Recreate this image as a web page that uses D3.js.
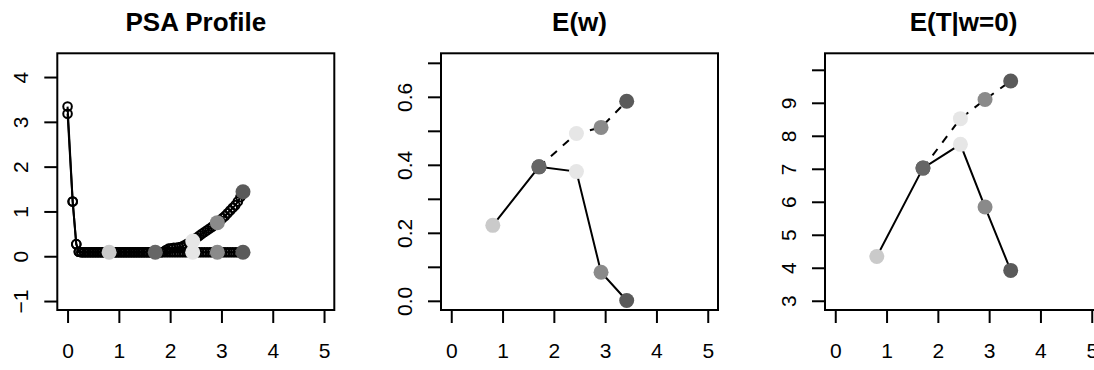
<!DOCTYPE html>
<html>
<head>
<meta charset="utf-8">
<script src="https://cdn.jsdelivr.net/npm/d3@7"></script>
<style>
body { margin: 0; background: #fff; }
text { font-family: "Liberation Sans", Arial, Helvetica, sans-serif; }
</style>
</head>
<body>
<svg id="chart"></svg>
<script>

/* Five highlighted fits (same x in every panel) */
var fitX = [0.81, 1.71, 2.44, 2.92, 3.42];
var fitColours = ["#cacaca", "#666666", "#e6e6e6", "#8a8a8a", "#5a5a5a"];

/* PSA profile: two paths of open circles */
var psaX = [0, 0.1, 0.17, 0.22, 0.27, 0.32, 0.37, 0.42, 0.47, 0.52,
    0.57, 0.62, 0.67, 0.72, 0.77, 0.82, 0.87, 0.92, 0.97, 1.02,
    1.07, 1.12, 1.17, 1.22, 1.27, 1.32, 1.37, 1.42, 1.47, 1.52,
    1.57, 1.62, 1.67, 1.72, 1.77, 1.82, 1.87, 1.92, 1.97, 2.02,
    2.07, 2.12, 2.17, 2.22, 2.27, 2.32, 2.37, 2.42, 2.47, 2.52,
    2.57, 2.62, 2.67, 2.72, 2.77, 2.82, 2.87, 2.92, 2.97, 3.02,
    3.07, 3.12, 3.17, 3.22, 3.27, 3.32, 3.37, 3.42];
var psaFlat = [3.34, 1.22, 0.27, 0.1, 0.09, 0.09, 0.09, 0.09, 0.09, 0.09,
    0.09, 0.09, 0.09, 0.09, 0.09, 0.09, 0.09, 0.09, 0.09, 0.09,
    0.09, 0.09, 0.09, 0.09, 0.09, 0.09, 0.09, 0.09, 0.09, 0.09,
    0.09, 0.09, 0.09, 0.09, 0.09, 0.09, 0.09, 0.09, 0.09, 0.09,
    0.09, 0.09, 0.09, 0.09, 0.09, 0.09, 0.09, 0.09, 0.09, 0.09,
    0.09, 0.09, 0.09, 0.09, 0.09, 0.09, 0.09, 0.09, 0.09, 0.09,
    0.09, 0.09, 0.09, 0.09, 0.09, 0.09, 0.09, 0.09];
var psaRise = [3.18, 1.22, 0.27, 0.1, 0.09, 0.09, 0.09, 0.09, 0.09, 0.09,
    0.09, 0.09, 0.09, 0.09, 0.09, 0.09, 0.09, 0.09, 0.09, 0.09,
    0.09, 0.09, 0.09, 0.09, 0.09, 0.09, 0.09, 0.09, 0.09, 0.09,
    0.09, 0.09, 0.09, 0.09, 0.09, 0.09, 0.1, 0.14, 0.17, 0.18,
    0.19, 0.19, 0.2, 0.21, 0.24, 0.27, 0.3, 0.34, 0.38, 0.42,
    0.46, 0.5, 0.54, 0.58, 0.62, 0.66, 0.7, 0.75, 0.8, 0.85,
    0.9, 0.96, 1.02, 1.08, 1.14, 1.22, 1.32, 1.43];
var psaFitLow = [0.09, 0.09, 0.09, 0.09, 0.09];
var psaFitHigh = [null, null, 0.34, 0.75, 1.44];

/* E(w) */
var ewSolid = [0.222, 0.394, 0.38, 0.084, 0.001];
var ewDashed = [null, 0.394, 0.492, 0.51, 0.587];

/* E(T|w=0) */
var etSolid = [4.34, 7.02, 7.74, 5.84, 3.92];
var etDashed = [null, 7.02, 8.52, 9.10, 9.66];

/* Ticks */
var xTicks = [0, 1, 2, 3, 4, 5];
var psaTicks = [-1, 0, 1, 2, 3, 4];
var ewTicks = [0, 0.1, 0.2, 0.3, 0.4, 0.5, 0.6, 0.7];
var ewLabels = [0, 0.2, 0.4, 0.6];
var etTicks = [3, 4, 5, 6, 7, 8, 9, 10];
var etLabels = [3, 4, 5, 6, 7, 8, 9];

var svg = d3.select("#chart").attr("width", 1094).attr("height", 370);

var plotTop = 53.3, plotBottom = 310;

//Sets up box, axes and title of one panel; returns scales
function panel(cfg) {
    var x = d3.scaleLinear().domain([-0.2, 5.2]).range([cfg.left, cfg.left + 277]);
    var y = d3.scaleLinear().domain(cfg.ydomain).range([plotBottom, plotTop]);
    var g = svg.append("g");

    g.append("g")
        .attr("transform", "translate(0," + plotBottom + ")")
        .call(d3.axisBottom(x).tickValues(xTicks).tickSize(13).tickFormat(d3.format("d")))
        .call(function (a) { a.select(".domain").remove(); })
        .call(function (a) {
            a.selectAll("line").attr("stroke", "#000").attr("stroke-width", 2);
            a.selectAll("text").attr("y", 48).attr("dy", null)
                .attr("font-size", 21).attr("fill", "#000");
        });

    g.append("g")
        .attr("transform", "translate(" + cfg.left + ",0)")
        .call(d3.axisLeft(y).tickValues(cfg.yticks).tickSize(13)
            .tickFormat(function (d) {
                return cfg.ylabels.indexOf(d) < 0 ? "" : cfg.yfmt(d);
            }))
        .call(function (a) { a.select(".domain").remove(); })
        .call(function (a) {
            a.selectAll("line").attr("stroke", "#000").attr("stroke-width", 2);
            a.selectAll("text").attr("x", null).attr("dy", null)
                .attr("text-anchor", "middle")
                .attr("transform", "translate(-29,0) rotate(-90)")
                .attr("font-size", 21).attr("fill", "#000");
        });

    g.append("rect")
        .attr("x", cfg.left).attr("y", plotTop)
        .attr("width", 277).attr("height", plotBottom - plotTop)
        .attr("fill", "none").attr("stroke", "#000").attr("stroke-width", 2);

    g.append("text")
        .attr("x", cfg.left + 138.5).attr("y", 31)
        .attr("text-anchor", "middle")
        .attr("font-size", 26).attr("font-weight", "bold")
        .text(cfg.title);

    return { x: x, y: y, g: g };
}

function pathLine(p, xs, ys, dash) {
    var pts = xs.map(function (d, i) { return [d, ys[i]]; })
        .filter(function (d) { return d[1] != null; });
    p.g.append("path")
        .datum(pts)
        .attr("fill", "none").attr("stroke", "#000").attr("stroke-width", 2)
        .attr("stroke-dasharray", dash ? "8,8" : null)
        .attr("d", d3.line().x(function (d) { return p.x(d[0]); }).y(function (d) { return p.y(d[1]); }));
    return pts;
}

function fitDots(p, ys) {
    var pts = fitX.map(function (d, i) { return { x: d, y: ys[i], c: fitColours[i] }; })
        .filter(function (d) { return d.y != null; });
    p.g.selectAll(null).data(pts).enter().append("circle")
        .attr("cx", function (d) { return p.x(d.x); })
        .attr("cy", function (d) { return p.y(d.y); })
        .attr("r", 7.5)
        .attr("fill", function (d) { return d.c; });
}

/* Panel 1 */
var p1 = panel({ left: 57.3, ydomain: [-1.2, 4.53], yticks: psaTicks, ylabels: psaTicks,
    yfmt: d3.format("d"), title: "PSA Profile" });
[psaFlat, psaRise].forEach(function (ys) {
    var pts = pathLine(p1, psaX, ys, false);
    p1.g.selectAll(null).data(pts).enter().append("circle")
        .attr("cx", function (d) { return p1.x(d[0]); })
        .attr("cy", function (d) { return p1.y(d[1]); })
        .attr("r", 4.3).attr("fill", "none")
        .attr("stroke", "#000").attr("stroke-width", 2);
});
fitDots(p1, psaFitLow);
fitDots(p1, psaFitHigh);

/* Panel 2 */
var p2 = panel({ left: 441, ydomain: [-0.027, 0.728], yticks: ewTicks, ylabels: ewLabels,
    yfmt: d3.format(".1f"), title: "E(w)" });
pathLine(p2, fitX, ewSolid, false);
pathLine(p2, fitX, ewDashed, true);
fitDots(p2, ewSolid);
fitDots(p2, ewDashed);

/* Panel 3 */
var p3 = panel({ left: 825, ydomain: [2.72, 10.5], yticks: etTicks, ylabels: etLabels,
    yfmt: d3.format("d"), title: "E(T|w=0)" });
pathLine(p3, fitX, etSolid, false);
pathLine(p3, fitX, etDashed, true);
fitDots(p3, etSolid);
fitDots(p3, etDashed);

</script>
</body>
</html>
